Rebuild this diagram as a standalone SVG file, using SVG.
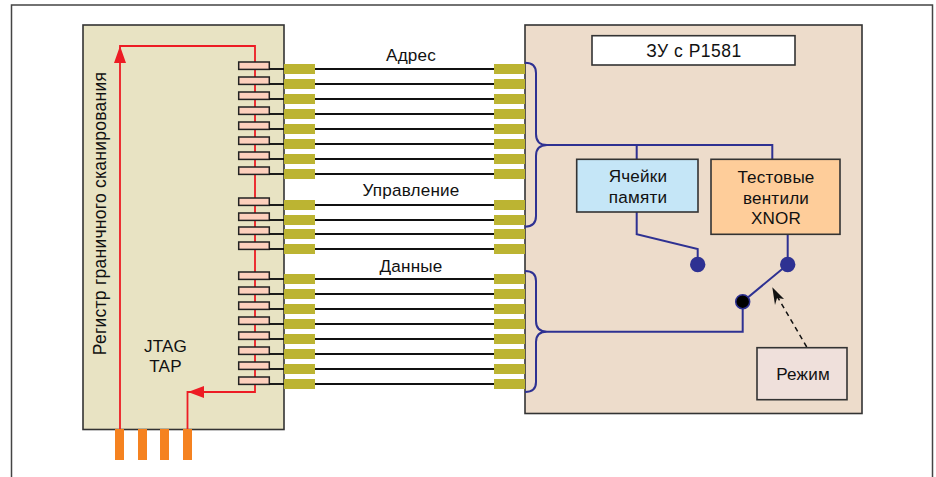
<svg xmlns="http://www.w3.org/2000/svg" width="936" height="477" viewBox="0 0 936 477">
<style>
.t{font-family:"Liberation Sans",Arial,sans-serif;font-size:17.1px;letter-spacing:.2px;fill:#111;text-anchor:middle}
.box{stroke:#333;stroke-width:1.6}
.cell{fill:#fdd0bd;stroke:#222;stroke-width:1.5}
.pin{fill:#bcb432}
.op{fill:#f58220}
.w{stroke:#111;stroke-width:1.9;fill:none}
.b{stroke:#2e3192;stroke-width:2;fill:none}
.r{stroke:#ed1c24;fill:none}
</style>
<defs>
<g id="cellpin"><rect class="cell" x="238.7" y="0" width="30.6" height="7.4"/><path class="w" d="M269.3 7H284"/><rect class="pin" x="284" y="2" width="31" height="10"/><path class="w" d="M315 7H494"/><rect class="pin" x="494" y="2" width="31" height="10"/></g>
</defs>
<rect x="11.5" y="5" width="921" height="480" fill="#fff" stroke="#444" stroke-width="1.5"/>
<g id="jtag-block">
<rect class="box" x="83" y="25" width="201" height="404.5" fill="#e8e3c3"/>
</g>
<g id="memory-block">
<rect class="box" x="525" y="25" width="337" height="388.5" fill="#eddccb"/>
</g>
<g id="connectors">
<path class="r" stroke-width="1.8" d="M120 429.5V46H255V392H187.5V429.5"/>
<path fill="#ed1c24" d="M120 46L126 63H114ZM188 392L204 386V398Z"/>
<path class="b" d="M525 62.7C532 62.7 536 66 536 73V134C536 141 540 145 547 145H772.3V159M547 145C540 145 536 149 536 156V216C536 223 532 226.7 525 226.7"/>
<path class="b" d="M636.7 145V159M636.7 212V234.3L697.7 249V264M787.7 234V264M787.7 264.5L742.7 301.7V331.7H547"/>
<path class="b" d="M525 271C532 271 536 274 536 281V321C536 328 540 331.7 547 331.7C540 331.7 536 335 536 342V382C536 389 532 392 525 392"/>
<path stroke="#111" stroke-width="1.5" stroke-dasharray="5 4" fill="none" d="M806.7 347L777 296"/>
<path fill="#111" d="M772.3 287.3L784 299L777 298L775 305Z"/>
</g>
<g id="scan-cells">
<use href="#cellpin" y="62"/><use href="#cellpin" y="77"/><use href="#cellpin" y="92"/><use href="#cellpin" y="107"/><use href="#cellpin" y="122"/><use href="#cellpin" y="137"/><use href="#cellpin" y="152"/><use href="#cellpin" y="167"/>
<use href="#cellpin" y="198"/><use href="#cellpin" y="213"/><use href="#cellpin" y="227"/><use href="#cellpin" y="242"/>
<use href="#cellpin" y="272"/><use href="#cellpin" y="287"/><use href="#cellpin" y="302"/><use href="#cellpin" y="317"/><use href="#cellpin" y="332"/><use href="#cellpin" y="347"/><use href="#cellpin" y="362"/><use href="#cellpin" y="377"/>
</g>
<g id="tap-pins">
<rect class="op" x="115" y="429" width="9" height="31"/><rect class="op" x="138" y="429" width="9" height="31"/><rect class="op" x="160" y="429" width="9" height="31"/><rect class="op" x="183" y="429" width="9" height="31"/>
</g>
<g id="title"><rect class="box" x="592" y="35.7" width="203" height="29.3" fill="#fff"/><text class="t" x="694" y="57" style="font-size:17.5px;letter-spacing:.5px">ЗУ с Р1581</text></g>
<g id="cells"><rect class="box" x="576.7" y="159.3" width="121.3" height="52.7" fill="#c5e6f7"/><text class="t" x="638" y="182">Ячейки</text><text class="t" x="638" y="203">памяти</text></g>
<g id="xnor"><rect class="box" x="711" y="159.3" width="129" height="75" fill="#fecd9a"/><text class="t" x="776" y="183">Тестовые</text><text class="t" x="776" y="204">вентили</text><text class="t" x="776" y="224">XNOR</text></g>
<g id="mode"><rect class="box" x="757" y="347.7" width="90" height="52" fill="#efe0db"/><text class="t" x="803" y="380">Режим</text></g>
<g id="switch"><circle cx="697.7" cy="264.5" r="7.7" fill="#2e3192"/><circle cx="787.7" cy="264.5" r="7.7" fill="#2e3192"/><circle cx="742.7" cy="301.7" r="7" fill="#000" stroke="#2e3192" stroke-width="1.5"/></g>
<text class="t" x="411" y="61">Адрес</text>
<text class="t" x="411" y="196">Управление</text>
<text class="t" x="411" y="272">Данные</text>
<text class="t" x="165.5" y="351.5">JTAG</text>
<text class="t" x="165.5" y="372">TAP</text>
<text class="t" transform="translate(105.5 213.5) rotate(-90)" style="font-size:17.5px;letter-spacing:.25px">Регистр граничного сканирования</text>
</svg>
